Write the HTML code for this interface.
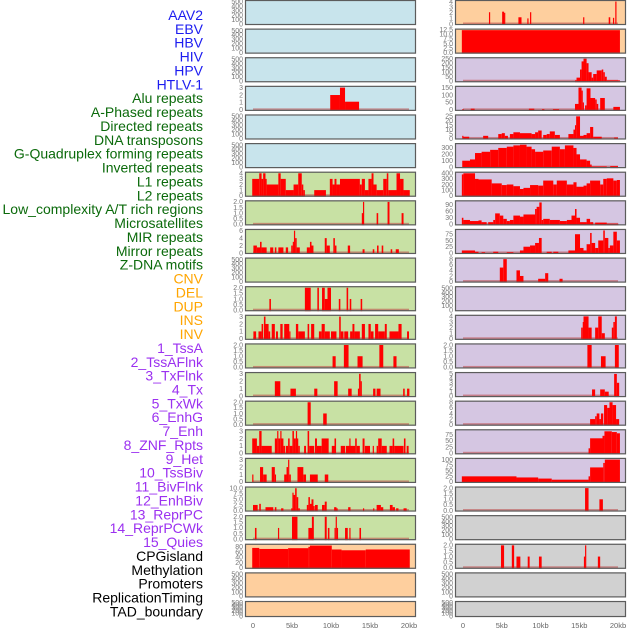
<!DOCTYPE html>
<html><head><meta charset="utf-8">
<style>
html,body{margin:0;padding:0;background:#fff;}
svg{display:block;font-family:"Liberation Sans",sans-serif;}
</style></head>
<body>
<svg id="chart" width="630" height="630" viewBox="0 0 630 630" xmlns="http://www.w3.org/2000/svg"></svg>
<script>
// ---- row labels ----
const labelTexts = ["AAV2","EBV","HBV","HIV","HPV","HTLV-1","Alu repeats","A-Phased repeats","Directed repeats","DNA transposons","G-Quadruplex forming repeats","Inverted repeats","L1 repeats","L2 repeats","Low_complexity A/T rich regions","Microsatellites","MIR repeats","Mirror repeats","Z-DNA motifs","CNV","DEL","DUP","INS","INV","1_TssA","2_TssAFlnk","3_TxFlnk","4_Tx","5_TxWk","6_EnhG","7_Enh","8_ZNF_Rpts","9_Het","10_TssBiv","11_BivFlnk","12_EnhBiv","13_ReprPC","14_ReprPCWk","15_Quies","CPGisland","Methylation","Promoters","ReplicationTiming","TAD_boundary"];
const labelGroups = [0,0,0,0,0,0,1,1,1,1,1,1,1,1,1,1,1,1,1,2,2,2,2,2,3,3,3,3,3,3,3,3,3,3,3,3,3,3,3,4,4,4,4,4];
const groupColors = ["#1c1cf0","#0b6a0b","#ffa500","#9b30f0","#000000"];
const xTickLabels = ["0","5kb","10kb","15kb","20kb"];
const xTickValues = [0,5,10,15,20];

// ---- panel data: [start_kb, end_kb, value] ----
const L3 = [[9.9,11.15,2],[11.15,11.8,3],[11.8,13.6,1.1]];
const L6 = [[-0.1,0.8,3],[0.8,1.1,4],[1.1,1.3,3],[1.3,1.6,4],[1.6,1.75,3],[1.75,3.25,2],[3.25,3.55,4],[3.55,4.2,3],[4.2,5.2,1],[5.2,5.8,2],[5.8,6.25,4],[6.25,6.45,2],[6.45,6.65,1],[7.85,9.35,1],[9.85,10.2,3],[10.2,10.45,2],[10.45,10.7,3],[10.7,11.15,2],[11.15,13.7,3],[13.7,13.95,2],[13.95,14.35,3],[14.35,14.8,1],[14.8,15.2,3],[15.2,15.45,4],[15.45,15.85,2],[15.85,16.7,1],[16.7,17.15,3],[17.15,17.35,4],[17.35,18.4,1],[18.4,18.85,4],[18.85,19.3,3],[19.3,20.1,1]];
const L7 = [[13.95,14.2,1],[14.1,14.2,2],[15.85,16.05,1],[17.25,17.5,2],[19.05,19.3,1]];
const L8 = [[0.05,0.5,2],[0.5,0.9,1.5],[0.9,1.1,3],[1.1,1.75,1.5],[2.2,2.6,1.5],[2.8,3.0,1.5],[3.25,3.9,1.5],[4.2,4.5,1.5],[4.9,5.1,2],[5.1,5.25,3],[5.25,5.4,6],[5.4,5.6,4],[5.6,6.0,1.5],[6.9,7.3,1.5],[7.3,7.5,3],[7.5,7.75,2],[9.2,9.45,4],[9.45,9.85,2],[10.3,10.5,4],[10.5,10.7,2],[12.15,12.45,2],[14.05,14.3,1],[15.35,15.55,1],[15.9,16.1,2],[16.5,16.7,2],[17.65,17.85,1],[18.3,18.7,1]];
const L10 = [[2.1,2.3,1],[6.65,7.4,2],[8.25,8.45,2],[8.85,9.2,2],[9.2,9.55,1],[9.55,10.0,2],[11.0,11.2,1],[12.0,12.2,2],[12.4,12.6,1],[13.8,14.0,1]];
const L11 = [[0.05,0.4,1],[0.7,1.1,1],[1.1,1.3,2],[1.4,1.6,3],[1.6,2.0,2],[2.0,2.2,1],[2.4,2.8,2],[2.95,3.2,1],[3.5,3.8,2],[4.0,4.65,2],[4.65,4.8,1],[5.5,5.8,2],[5.8,6.65,1],[7.0,7.2,2],[7.45,7.85,2],[8.45,8.8,1],[8.8,9.2,2],[9.2,9.85,1],[10.0,10.7,1],[11.05,11.25,3],[11.25,11.6,1],[11.7,12.2,1],[12.45,12.75,1],[12.75,13.0,2],[13.0,13.7,1],[13.95,14.35,2],[14.8,15.1,2],[15.1,15.45,1],[15.65,16.05,2],[16.05,16.9,1],[16.9,17.15,2],[17.5,18.65,1],[18.65,19.05,2],[19.75,20.0,1]];
const L12 = [[10.2,10.6,1],[11.65,12.25,2],[13.4,14.05,1],[16.2,16.7,2],[18.0,18.4,1]];
const L13 = [[2.8,3.5,2],[4.8,5.5,1],[7.85,8.25,1],[10.4,10.85,2],[12.2,12.65,1],[13.45,13.6,1],[13.6,13.8,3],[13.8,13.95,2],[15.4,15.7,1],[15.85,16.35,1],[19.25,19.45,1],[19.75,20.05,1]];
const L14 = [[7.0,7.4,2],[9.0,9.45,1]];
const L15 = [[-0.1,0.5,2],[0.5,0.8,1],[0.8,1.1,3],[1.1,2.4,1],[2.8,3.1,2],[3.1,3.25,3],[3.25,3.5,2],[3.5,3.6,3],[3.6,3.9,2],[3.9,4.1,1],[4.2,4.5,1],[4.5,4.7,2],[4.7,5.05,1],[5.05,5.25,3],[5.25,5.5,2],[5.5,5.6,3],[5.6,5.8,2],[5.8,6.0,1],[6.55,6.8,1],[7.0,7.2,3],[7.2,7.85,1],[7.95,8.2,2],[8.2,8.8,1],[8.8,9.7,2],[10.1,10.45,1],[10.45,10.65,2],[11.25,11.8,1],[11.9,12.4,1],[12.35,12.5,2],[12.5,13.1,1],[13.1,13.3,2],[13.3,13.7,1],[14.05,14.3,2],[14.35,15.0,1],[15.35,15.5,1],[15.85,16.05,1],[16.05,16.5,2],[16.5,17.15,1],[17.5,17.9,1],[17.9,18.1,2],[18.1,19.3,1],[19.35,19.55,2],[19.7,19.95,1]];
const L16 = [[-0.1,0.05,1],[0.9,1.3,2],[1.3,1.75,1],[2.4,2.8,2],[2.8,2.95,1],[4.0,4.3,1],[4.3,4.5,2],[4.5,4.65,3],[4.65,4.85,1],[5.7,6.45,2],[6.45,6.8,1],[7.3,8.3,1],[9.2,9.65,1]];
const L17 = [[0.0,0.6,2.5],[0.8,1.0,3],[1.6,2.6,1.5],[2.8,3.0,1.5],[3.6,3.9,1],[4.9,5.05,1],[5.05,5.2,8],[5.2,5.4,7],[5.4,5.6,10],[5.6,5.8,6],[5.8,6.0,1],[6.9,7.1,2.5],[7.1,7.3,6],[7.3,7.5,3],[7.5,7.75,5],[7.75,7.85,2],[7.95,8.3,2.5],[8.85,9.2,2.5],[9.2,9.45,4],[10.4,10.7,1.5],[10.7,10.85,1],[12.2,12.5,1.5],[14.1,14.2,1],[15.4,15.5,1],[15.85,16.4,2.5],[16.4,16.7,1.5],[17.55,17.9,2.5],[17.9,18.2,1.5],[18.35,18.65,1],[19.3,19.7,1]];
const L18 = [[0.25,0.45,1],[3.2,3.35,1],[5.0,5.7,2],[7.1,7.65,1],[7.55,7.8,2],[9.2,9.45,2],[9.6,9.8,1],[10.45,10.6,1],[10.6,10.75,2],[10.75,10.85,1],[11.8,12.15,1],[12.35,12.5,1],[13.65,13.85,1]];
const L19 = [[-0.1,0.8,76],[0.8,4.5,72],[4.5,7.1,75],[7.1,7.3,80],[7.3,10.1,85],[10.1,11.35,70],[11.35,14.45,67],[14.45,20.1,70]];

const R0 = [[3.35,3.5,2.1],[5.05,5.3,2.2],[5.3,5.45,2],[7.15,7.55,1.2],[8.3,8.4,1],[8.65,8.8,2.1],[15.5,15.65,1.2],[18.8,19.0,1.2],[19.35,19.45,1.1],[19.65,19.8,4]];
const R1 = [[-0.15,20.25,12.3]];
const R2 = [[14.45,14.65,10],[14.65,15.1,40],[15.1,15.3,130],[15.3,15.55,220],[15.55,15.95,250],[15.95,16.2,200],[16.2,16.6,100],[16.6,16.8,40],[16.8,17.25,80],[17.25,17.9,120],[17.9,18.1,130],[18.1,18.3,100],[18.3,18.55,50],[18.55,20.25,10]];
const R3 = [[-0.1,0.1,5],[1.0,1.5,8],[8.5,9.2,8],[10.2,10.5,5],[11.6,12.4,5],[14.45,14.9,40],[14.9,15.3,150],[15.3,15.45,130],[15.45,15.6,50],[15.75,15.95,30],[15.95,16.45,145],[16.45,17.05,80],[17.05,17.25,70],[17.25,17.45,40],[17.7,18.3,80],[19.4,20.25,20]];
const R4 = [[-0.1,0.05,3],[0.05,0.8,2],[2.6,3.25,3],[4.55,5.0,5],[5.0,5.4,6],[5.4,5.8,3],[6.05,6.5,5],[6.5,7.35,7],[7.35,8.85,6],[8.85,9.3,5],[9.3,9.7,7],[9.7,10.15,9],[10.35,10.8,4],[10.8,11.2,5],[11.2,11.85,8],[11.85,12.5,4],[13.6,14.25,5],[14.25,14.45,10],[14.45,14.6,15],[14.6,15.1,25],[15.1,15.55,3],[15.55,15.95,4],[15.95,16.4,6],[16.4,16.8,13],[16.8,17.9,2],[19.5,20.0,1]];
const R5 = [[-0.1,0.9,100],[0.9,1.55,120],[1.55,2.4,220],[2.4,3.5,240],[3.5,4.55,270],[4.55,5.65,300],[5.65,6.5,320],[6.5,7.35,340],[7.35,8.2,350],[8.2,8.85,320],[8.85,9.3,280],[9.3,10.35,240],[10.35,11.45,260],[11.45,12.5,320],[12.5,13.15,280],[13.15,14.25,340],[14.25,14.65,300],[14.65,15.1,200],[15.1,15.95,120],[15.95,16.4,100],[16.4,16.6,40],[16.6,18.55,10],[19.0,20.0,15]];
const R6 = [[-0.15,0.05,380],[0.05,1.55,400],[1.55,2.0,300],[2.0,3.7,290],[3.7,5.0,220],[5.0,5.65,190],[5.65,6.5,200],[6.5,7.35,170],[7.35,7.8,120],[7.8,8.65,140],[8.65,9.7,190],[9.7,10.35,180],[10.35,11.65,270],[11.65,12.1,200],[12.1,13.4,270],[13.4,14.25,200],[14.25,14.65,240],[14.65,15.55,160],[15.55,15.95,180],[15.95,16.4,220],[16.4,17.7,270],[17.7,18.1,200],[18.1,18.55,300],[18.55,19.4,310],[19.4,19.85,270],[19.85,20.25,280]];
const R7 = [[-0.15,0.05,30],[0.05,0.9,20],[0.9,2.0,15],[2.0,2.4,18],[2.4,3.05,10],[3.25,3.9,10],[3.9,4.15,20],[4.15,4.75,50],[4.75,5.2,40],[5.2,5.65,25],[5.65,6.05,15],[6.05,6.5,20],[6.5,7.35,40],[7.35,7.8,35],[7.8,9.3,45],[9.3,9.5,70],[9.5,9.85,80],[9.85,10.15,100],[10.15,10.35,20],[10.35,11.2,25],[11.2,12.5,20],[12.5,13.4,15],[13.4,14.0,20],[14.0,14.45,40],[14.45,14.65,70],[14.65,15.1,30],[15.1,15.95,10],[15.95,16.4,25],[16.4,16.8,10],[17.05,18.55,8],[18.55,20.05,3]];
const R8 = [[-0.15,1.55,10],[1.55,2.0,5],[2.4,2.85,3],[3.9,4.55,5],[5.65,6.5,3],[7.35,7.8,10],[7.8,8.65,25],[8.65,9.3,30],[9.3,9.8,40],[9.8,10.15,60],[10.8,11.45,5],[11.65,12.3,5],[13.6,14.45,10],[14.45,15.1,75],[15.1,15.55,20],[15.55,15.95,10],[15.95,16.4,35],[16.4,16.6,80],[16.6,17.05,40],[17.05,17.45,20],[17.45,18.1,50],[18.1,18.3,90],[18.3,18.75,60],[18.75,18.95,20],[18.95,19.4,30],[19.4,19.85,85],[19.85,20.25,50]];
const R9 = [[4.75,5.2,5],[5.2,5.65,8],[6.9,7.35,4],[7.35,7.8,2],[9.7,10.6,1],[10.6,11.0,3],[12.45,12.85,1]];
const R11 = [[15.25,15.45,2],[15.45,15.55,3],[15.55,16.2,4],[16.2,16.6,2],[17.05,17.45,2],[17.45,17.9,4],[17.9,18.3,1],[19.2,19.4,2],[19.4,19.6,3],[19.6,19.85,4]];
const R12 = [[16.05,16.6,2],[17.8,18.4,1],[19.6,20.1,2]];
const R13 = [[16.65,17.05,1.5],[17.7,18.3,1.5],[18.3,18.8,1],[19.5,19.85,5],[19.85,20.15,3]];
const R14 = [[16.4,17.05,2],[17.05,17.25,3],[17.25,17.6,4],[17.6,17.8,2],[17.8,18.1,4],[18.2,18.6,7],[18.6,18.9,6],[18.9,19.3,8],[19.3,19.75,7],[19.75,20.15,2]];
const R15 = [[16.2,16.4,20],[16.4,18.0,60],[18.0,18.25,70],[18.25,19.2,88],[19.2,19.85,85],[19.85,20.25,80]];
const R16 = [[-0.15,6.9,25],[6.9,9.7,20],[9.7,11.45,15],[11.45,16.2,10],[16.2,16.4,25],[16.4,18.1,65],[18.1,18.3,85],[18.3,20.25,100]];
const R17 = [[15.75,16.2,2],[17.6,18.05,1]];
const R19 = [[4.9,5.3,2],[6.3,6.6,2],[6.9,7.4,1],[8.35,8.6,1],[9.8,10.15,1],[15.6,15.75,1],[15.75,15.9,2],[17.4,17.7,1]];

// ---- tick label sets ----
const tEmpty = ["0","100","200","300","400","500"];
const t3 = ["0","1","2","3"];
const t4 = ["0","1","2","3","4"];
const t2 = ["0.0","0.5","1.0","1.5","2.0"];
const t6 = ["0","2","4","6"];
const t8 = ["0","2","4","6","8"];
const t5 = ["0","1","2","3","4","5"];
const t10 = ["0.0","2.5","5.0","7.5","10.0"];
const t125 = ["0.0","2.5","5.0","7.5","10.0","12.5"];
const t80 = ["0","20","40","60","80"];
const t250 = ["0","50","100","150","200","250"];
const t150 = ["0","50","100","150"];
const t25 = ["0","5","10","15","20","25"];
const t300 = ["0","100","200","300"];
const t400 = ["0","100","200","300","400"];
const t90 = ["0","30","60","90"];
const t75 = ["0","25","50","75"];
const t100 = ["0","25","50","75","100"];

// panel list: column, row, background, ticks, axis max, data
const BLUE="#c8e4ec", ORANGE="#fecf9e", PURPLE="#d5c6e2", GREEN="#c8e1a4", GRAY="#d1d1d1";
const panels = [
 ["L",0,BLUE,tEmpty,520,null],["L",1,BLUE,tEmpty,520,null],["L",2,BLUE,tEmpty,520,null],
 ["L",3,BLUE,t3,3.1,L3],["L",4,BLUE,tEmpty,520,null],["L",5,BLUE,tEmpty,520,null],
 ["L",6,GREEN,t4,4.1,L6],["L",7,GREEN,t2,2.05,L7],["L",8,GREEN,t6,6.2,L8],
 ["L",9,GREEN,tEmpty,520,null],["L",10,GREEN,t2,2.05,L10],["L",11,GREEN,t3,3.1,L11],
 ["L",12,GREEN,t2,2.05,L12],["L",13,GREEN,t3,3.1,L13],["L",14,GREEN,t2,2.05,L14],
 ["L",15,GREEN,t3,3.1,L15],["L",16,GREEN,t3,3.1,L16],["L",17,GREEN,t10,10.3,L17],
 ["L",18,GREEN,t2,2.05,L18],["L",19,ORANGE,t80,88,L19],["L",20,ORANGE,tEmpty,520,null],
 ["L",21,ORANGE,tEmpty,520,null],
 ["R",0,ORANGE,t4,4.1,R0],["R",1,ORANGE,t125,12.6,R1],["R",2,PURPLE,t250,255,R2],
 ["R",3,PURPLE,t150,155,R3],["R",4,PURPLE,t25,26,R4],["R",5,PURPLE,t300,360,R5],
 ["R",6,PURPLE,t400,410,R6],["R",7,PURPLE,t90,105,R7],["R",8,PURPLE,t75,92,R8],
 ["R",9,PURPLE,t8,8.2,R9],["R",10,PURPLE,tEmpty,520,null],["R",11,PURPLE,t4,4.1,R11],
 ["R",12,PURPLE,t2,2.05,R12],["R",13,PURPLE,t5,5.2,R13],["R",14,PURPLE,t8,8.2,R14],
 ["R",15,PURPLE,t75,92,R15],["R",16,PURPLE,t100,103,R16],["R",17,GRAY,t2,2.05,R17],
 ["R",18,GRAY,tEmpty,520,null],["R",19,GRAY,t2,2.05,R19],["R",20,GRAY,tEmpty,520,null],
 ["R",21,GRAY,tEmpty,520,null]
];

const NS="http://www.w3.org/2000/svg";
const svg=document.getElementById('chart');
function mk(tag,attrs,parent){const e=document.createElementNS(NS,tag);for(const k in attrs)e.setAttribute(k,attrs[k]);(parent||svg).appendChild(e);return e;}

// axis functions
const colGeom={L:{x0:245,x1:416,z:253,s:7.8,tx:243},R:{x0:455,x1:626,z:463,s:7.75,tx:453}};
function xScale(col,kb){return colGeom[col].z+kb*colGeom[col].s;}
function rowTop(r){return r*28.62;}
function rowH(r){return r===21?16:25;}
function yScale(r,max,v){const h=rowH(r);return rowTop(r)+h-1-v/max*(h-2);}

// labels
labelTexts.forEach((t,i)=>{
  const el=mk('text',{x:203,y:(15+i*13.87+5).toFixed(1),'text-anchor':'end','font-size':'14',fill:groupColors[labelGroups[i]]});
  el.textContent=t;
  
  
});

panels.forEach(p=>{
  const [col,r,bg,ticks,max,data]=p;
  const g=colGeom[col], top=rowTop(r), h=rowH(r);
  const grp=mk('g',{});
  
  
  const rect=mk('rect',{x:g.x0,y:top,width:g.x1-g.x0,height:h,fill:bg},grp);
  
  
  // ticks
  const topTick=parseFloat(ticks[ticks.length-1]);
  ticks.forEach((t)=>{
    const v=parseFloat(t);
    const y=yScale(r,max,v);
    const tx=mk('text',{x:g.tx,y:(y+2.3).toFixed(1),'text-anchor':'end','font-size':'7',fill:'#777'},grp);
    tx.textContent=t;
    
    
  });
  if(data){
    const base=mk('rect',{x:xScale(col,0),y:top+h-2.5,width:xScale(col,20)-xScale(col,0),height:2,fill:'rgba(190,70,70,0.55)'},grp);
    
    
    data.forEach(d=>{
      const x0=xScale(col,d[0]),x1=xScale(col,d[1]);
      const y=yScale(r,max,d[2]),y0=yScale(r,max,0);
      const b=mk('rect',{x:x0.toFixed(2),y:y.toFixed(2),width:Math.max(1.2,x1-x0).toFixed(2),height:(y0-y+1).toFixed(2),fill:'#ff0000'},grp);
      
      
    });
  }
  const border=mk('rect',{x:g.x0+0.5,y:top+0.5,width:g.x1-g.x0-1,height:h-1,fill:'none',stroke:'#5c5c5c','stroke-width':1.2},grp);
  
  
});

// x axes
['L','R'].forEach(col=>{
  xTickValues.forEach((v,i)=>{
    const t=mk('text',{x:xScale(col,v),y:628,'text-anchor':'middle','font-size':'7.5',fill:'#666'});
    t.textContent=xTickLabels[i];
    
    
  });
});
</script>
</body></html>
